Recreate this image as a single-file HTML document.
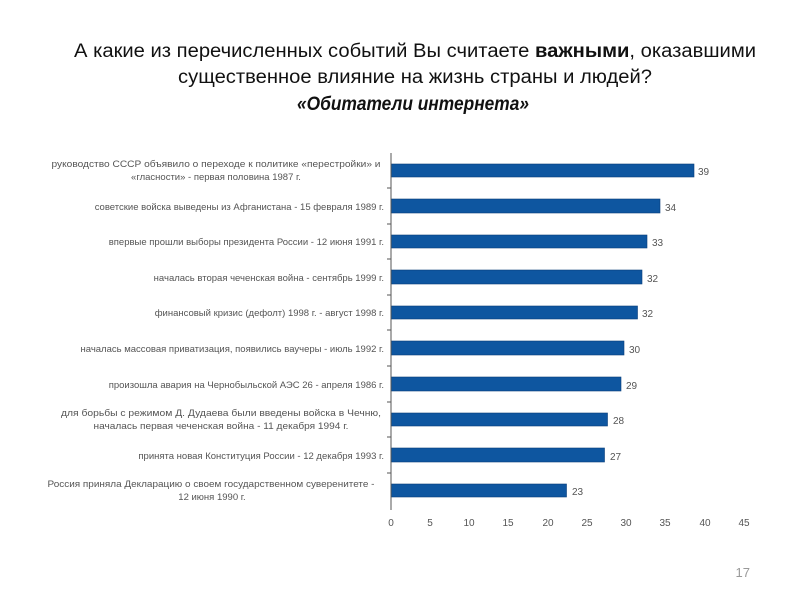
<!DOCTYPE html>
<html><head><meta charset="utf-8"><style>
html,body{margin:0;padding:0;background:#fff;}
svg{display:block;}
</style></head><body>
<svg width="800" height="600" xmlns="http://www.w3.org/2000/svg" font-family="Liberation Sans, sans-serif">
<g font-size="19" fill="#111" text-anchor="middle">
<text x="415" y="57" textLength="682" lengthAdjust="spacingAndGlyphs">А какие из перечисленных событий Вы считаете <tspan font-weight="bold">важными</tspan>, оказавшими</text>
<text x="415" y="83" textLength="474" lengthAdjust="spacingAndGlyphs">существенное влияние на жизнь страны и людей?</text>
<text x="413" y="110" font-weight="bold" font-style="italic" textLength="232" lengthAdjust="spacingAndGlyphs">«Обитатели интернета»</text>
</g>
<g fill="#0e56a0" stroke="#0a3f7a" stroke-width="0.6">
<rect x="391" y="164" width="303" height="13"/>
<rect x="391" y="199" width="269" height="14"/>
<rect x="391" y="235" width="256" height="13"/>
<rect x="391" y="270" width="251" height="14"/>
<rect x="391" y="306" width="246.5" height="13"/>
<rect x="391" y="341" width="233" height="14"/>
<rect x="391" y="377" width="230" height="14"/>
<rect x="391" y="413" width="216.5" height="13"/>
<rect x="391" y="448" width="213.5" height="14"/>
<rect x="391" y="484" width="175.5" height="13"/>
</g>
<g stroke="#555" stroke-width="1">
<line x1="391" y1="153" x2="391" y2="510"/>
<line x1="387" y1="188" x2="391" y2="188"/>
<line x1="387" y1="224" x2="391" y2="224"/>
<line x1="387" y1="259" x2="391" y2="259"/>
<line x1="387" y1="295" x2="391" y2="295"/>
<line x1="387" y1="330" x2="391" y2="330"/>
<line x1="387" y1="366" x2="391" y2="366"/>
<line x1="387" y1="402" x2="391" y2="402"/>
<line x1="387" y1="437" x2="391" y2="437"/>
<line x1="387" y1="473" x2="391" y2="473"/>
</g>
<g font-size="10" fill="#555">
<text x="698" y="175">39</text>
<text x="665" y="211">34</text>
<text x="652" y="246">33</text>
<text x="647" y="282">32</text>
<text x="642" y="317">32</text>
<text x="629" y="353">30</text>
<text x="626" y="389">29</text>
<text x="613" y="424">28</text>
<text x="610" y="460">27</text>
<text x="572" y="495">23</text>
</g>
<g font-size="10" fill="#555" text-anchor="middle">
<text x="391" y="526">0</text><text x="430" y="526">5</text><text x="469" y="526">10</text><text x="508" y="526">15</text><text x="548" y="526">20</text><text x="587" y="526">25</text><text x="626" y="526">30</text><text x="665" y="526">35</text><text x="705" y="526">40</text><text x="744" y="526">45</text>
</g>
<g font-size="9.5" fill="#555" text-anchor="end">
<text x="216" y="167" text-anchor="middle" textLength="329" lengthAdjust="spacingAndGlyphs">руководство СССР объявило о переходе к политике «перестройки» и</text>
<text x="216" y="180" text-anchor="middle">«гласности» - первая половина 1987 г.</text>
<text x="384" y="210">советские войска выведены из Афганистана - 15 февраля 1989 г.</text>
<text x="384" y="245">впервые прошли выборы президента России - 12 июня 1991 г.</text>
<text x="384" y="281">началась вторая чеченская война - сентябрь 1999 г.</text>
<text x="384" y="316">финансовый кризис (дефолт) 1998 г. - август 1998 г.</text>
<text x="384" y="352">началась массовая приватизация, появились ваучеры - июль 1992 г.</text>
<text x="384" y="388">произошла авария на Чернобыльской АЭС 26 - апреля 1986 г.</text>
<text x="221" y="416" text-anchor="middle" textLength="320" lengthAdjust="spacingAndGlyphs">для борьбы с режимом Д. Дудаева были введены войска в Чечню,</text>
<text x="221" y="429" text-anchor="middle" textLength="255" lengthAdjust="spacingAndGlyphs">началась первая чеченская война - 11 декабря 1994 г.</text>
<text x="384" y="459">принята новая Конституция России - 12 декабря 1993 г.</text>
<text x="211" y="487" text-anchor="middle" textLength="327" lengthAdjust="spacingAndGlyphs">Россия приняла Декларацию о своем государственном суверенитете -</text>
<text x="212" y="500" text-anchor="middle">12 июня 1990 г.</text>
</g>
<text x="750" y="577" font-size="13" fill="#999" text-anchor="end">17</text>
</svg>
</body></html>
